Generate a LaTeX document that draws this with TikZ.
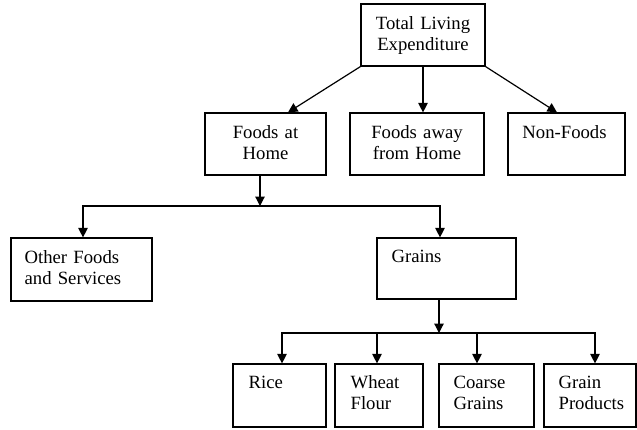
\documentclass[tikz,border=0pt]{standalone}
\usepackage{fontspec}
\setmainfont{Liberation Serif}
\usetikzlibrary{arrows.meta}
\begin{document}
\begin{tikzpicture}[x=1pt,y=-1pt,line width=1.2pt,
  box/.style={draw, inner sep=0pt},
  txt/.style={inner sep=0pt, font=\fontsize{18.7}{21.8}\selectfont},
  lbl/.style={txt, anchor=base west, align=left, text width=130pt},
  clbl/.style={txt, anchor=base, align=center, text width=134pt},
  arr/.style={-{Triangle[length=9.5pt,width=9.5pt]}}]
\useasboundingbox (0,0) rectangle (637,429);
% boxes
\node[box, minimum width=124pt, minimum height=62pt] (T) at (423,35) {};
\node[box, minimum width=121pt, minimum height=62pt] (FH) at (265.5,144) {};
\node[box, minimum width=134pt, minimum height=62pt] (FA) at (417,144) {};
\node[box, minimum width=117pt, minimum height=62pt] (NF) at (566.5,144) {};
\node[box, minimum width=141pt, minimum height=63pt] (OF) at (81.5,269.5) {};
\node[box, minimum width=139pt, minimum height=61pt] (GR) at (446.5,268.5) {};
\node[box, minimum width=93pt, minimum height=63pt] (RI) at (279.5,395.5) {};
\node[box, minimum width=88pt, minimum height=63pt] (WF) at (379,395.5) {};
\node[box, minimum width=95pt, minimum height=63pt] (CG) at (486.5,395.5) {};
\node[box, minimum width=92pt, minimum height=63pt] (GP) at (590,395.5) {};
% texts
\node[clbl] (tT) at (423,29) {Total Living\\Expenditure};
\node[clbl] (tFH) at (265.5,138) {Foods at\\Home};
\node[clbl] (tFA) at (417,138) {Foods away\\from Home};
\node[clbl] (tNF) at (564.5,138) {Non-Foods};
\node[lbl] (tOF) at (24,263) {Other Foods\\and Services};
\node[lbl] (tGR) at (391,262) {Grains};
\node[lbl] (tRI) at (248,388) {Rice};
\node[lbl] (tWF) at (350,388) {Wheat\\Flour};
\node[lbl] (tCG) at (453,388) {Coarse\\Grains};
\node[lbl] (tGP) at (558,388) {Grain\\Products};
% connectors
\draw[arr] (T.south west) -- ([xshift=22.5pt]FH.north);
\draw[arr] (T.south) -- (T.south |- FA.north);
\draw[arr] (T.south east) -- ([xshift=-9.5pt]NF.north);
\coordinate (j1) at (260,206);
\draw[arr] ([xshift=-5.5pt]FH.south) -- (j1);
\draw[arr] (j1) -| ([xshift=1.5pt]OF.north);
\draw[arr] (j1) -| ([xshift=-6.5pt]GR.north);
\coordinate (j2) at (439,333);
\draw[arr] ([xshift=-7.5pt]GR.south) -- (j2);
\draw[arr] (j2) -| ([xshift=2.5pt]RI.north);
\draw[arr] (j2) -| ([xshift=-2pt]WF.north);
\draw[arr] (j2) -| ([xshift=-9.5pt]CG.north);
\draw[arr] (j2) -| ([xshift=5pt]GP.north);
\end{tikzpicture}
\end{document}
